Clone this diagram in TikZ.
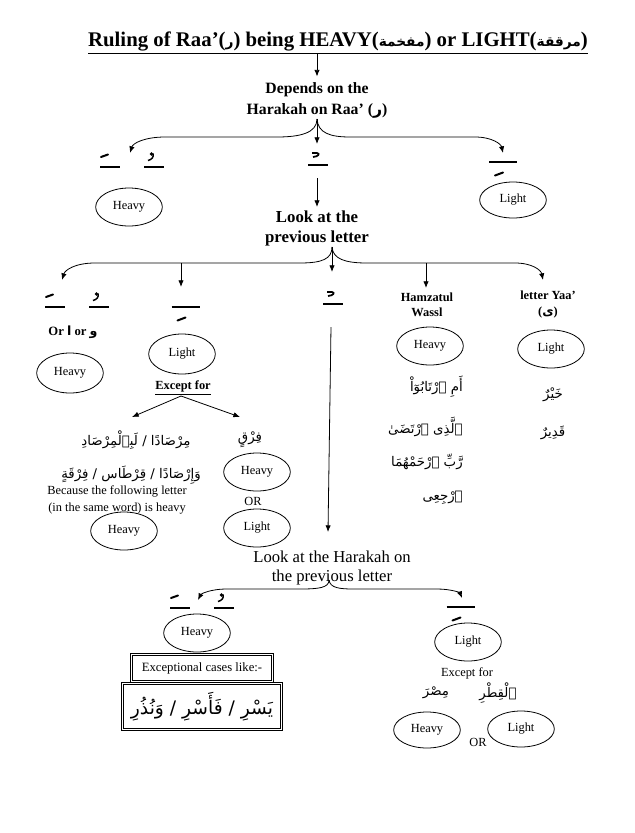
\documentclass[tikz,border=0pt]{standalone}
\usepackage{fontspec}
\setmainfont{Liberation Serif}
\newfontfamily\arabicfont[Script=Arabic]{DejaVu Sans}
\TeXXeTstate=1
\usetikzlibrary{shapes.geometric,arrows.meta}
\newcommand\myfs[2]{\fontsize{#1}{#2}\selectfont}
\newcommand\ar[1]{{\arabicfont\beginR #1\endR}}
\newcommand\art[1]{{\arabicfont\myfs{10.3}{12}\beginR #1\endR}}
\begin{document}
\begin{tikzpicture}[x=0.75pt,y=-0.75pt,
  arr/.style={-{Latex[length=5pt,width=4pt]}, line width=0.6pt},
  oval/.style={ellipse, draw, line width=0.6pt, minimum width=50pt, minimum height=28.5pt, inner sep=0pt, font=\myfs{9.3}{11}},
  hb/.style={font=\bfseries\myfs{9.3}{11.5}, align=center, inner sep=0pt},
  arb/.style={font=\arabicfont\myfs{10}{12}, inner sep=0pt},
  txt/.style={font=\myfs{9.3}{12.75}, align=center, inner sep=0pt},
  dbox/.style={draw, double, double distance=1.2pt, line width=0.5pt, inner sep=0pt},
  mk/.style={line width=0.9pt},
  dia/.style={line width=1.5pt, line cap=round},
  fathaP/.pic={\draw[mk] (-10,0) -- (10,0); \draw[dia] (-9,-10) -- (-2,-12.5);},
  dammaP/.pic={\draw[mk] (-10,0) -- (10,0); \fill (-2.5,-13) circle (1.9); \draw[line width=1.1pt] (-1,-13.5) .. controls (0,-10) and (-2,-7.5) .. (-6,-6.5);},
  sukunP/.pic={\draw[mk] (-10,0) -- (10,0); \draw[line width=1.3pt] (-6,-12) -- (-1,-12) .. controls (2,-11.5) and (1,-8.5) .. (-5,-8);},
  kasraP/.pic={\draw[mk] (-14,0) -- (14,0); \draw[dia] (-8,13.5) -- (0,10.5);}
]
\useasboundingbox (0,0) rectangle (635,833);
\fill[white] (0,0) rectangle (635,833);

% title
\node[font=\bfseries\myfs{15.6}{18}, inner sep=0pt] (title) at (338,43)
  {\underline{Ruling of Raa’(\art{ر}) being HEAVY(\art{مفخمة}) or LIGHT(\art{مرققة})}};
\node[font=\bfseries\myfs{11.8}{15.75}, align=center, inner sep=0pt] (dep) at (317,100)
  {Depends on the\\Harakah on Raa’ (\ar{ر})};
\draw[arr] (title.south -| dep.north) -- ([yshift=4pt]dep.north);

% row 1
\coordinate (apex1) at (317,119);
\coordinate (t1L) at (130,153);
\coordinate (t1M) at (317,144);
\coordinate (t1R) at (503,153);
\draw[arr] (apex1) .. controls (317,133) and (300,137) .. (277,137) -- (165,137) .. controls (145,137) and (133,143) .. (t1L);
\draw[arr] (apex1) .. controls (318,133) and (330,137) .. (350,137) -- (475,137) .. controls (492,137) and (501,144) .. (t1R);
\draw[arr] (apex1) -- (t1M);
\pic at (110,167) {fathaP};
\pic at (154,167) {dammaP};
\pic at (318,165) {sukunP};
\pic at (503,162) {kasraP};
\node[oval] (heavy1) at (129,207) {Heavy};
\node[oval, minimum height=27pt] (light1) at (513,200) {Light};

\coordinate (s1b) at (317,178);
\coordinate (l1top) at (317,207);
\draw[arr] (s1b) -- (l1top);
\node[font=\bfseries\myfs{12.6}{15}, align=center, inner sep=0pt] (look1) at (317,228) {Look at the\\previous letter};

% row 2
\coordinate (apex2) at (332,247);
\coordinate (t2L) at (62,280);
\coordinate (t2R) at (543,280);
\coordinate (t2M) at (332,272);
\coordinate (b2a) at (181,263);
\coordinate (t2a) at (181,287);
\coordinate (b2b) at (426,263);
\coordinate (t2b) at (426,288);
\draw[arr] (apex2) .. controls (332,259) and (322,263) .. (300,263) -- (95,263) .. controls (75,263) and (65,270) .. (t2L);
\draw[arr] (apex2) .. controls (333,259) and (345,263) .. (367,263) -- (515,263) .. controls (532,263) and (541,270) .. (t2R);
\draw[arr] (apex2) -- (t2M);
\draw[arr] (b2a) -- (t2a);
\draw[arr] (b2b) -- (t2b);

\pic at (55,307) {fathaP};
\pic at (99,307) {dammaP};
\pic at (185.5,307) {kasraP};
\pic at (333,304) {sukunP};

\node[hb, font=\bfseries\myfs{9.5}{11.5}] (oraw) at (73,332) {Or \ar{ا} or \ar{و}};
\node[oval, minimum height=30pt] (heavy2) at (70,373) {Heavy};
\node[oval, minimum height=30pt] (light2) at (182,354) {Light};
\node[hb] (except1) at (183,388) {\underline{Except for}};
\coordinate (ex1) at (181,396);
\coordinate (ex1L) at (132,417);
\coordinate (ex1R) at (240,417);
\draw[arr] (ex1) -- (ex1L);
\draw[arr] (ex1) -- (ex1R);

\node[arb] (ar1) at (136,440) {\beginR مِرْصَادًا / لَبِٱلْمِرْصَادِ\endR};
\node[arb] (farq) at (250,440) {\beginR فِرْقٍ\endR};
\node[arb] (ar2) at (131,475) {\beginR وَإِرْصَادًا / قِرْطَاس / فِرْقَةٍ\endR};
\node[txt] (because) at (117,499.5) {Because the following letter\\(in the same word) is heavy};
\node[oval] (heavy3) at (124,531) {Heavy};
\node[oval] (heavy4) at (257,472) {Heavy};
\node[txt] (or1) at (253,501) {OR};
\node[oval] (light4) at (257,528) {Light};

\coordinate (s2b) at (331,327);
\coordinate (l2top) at (328,532);
\draw[arr] (s2b) -- (l2top);

\node[hb] (hamz) at (427,304.5) {Hamzatul\\Wassl};
\node[oval] (heavy5) at (430,346) {Heavy};
\node[arb, anchor=east] (h1) at (463,387) {\beginR أَمِ ٱرْتَابُوٓاْ\endR};
\node[arb, anchor=east] (h2) at (463,427) {\beginR ٱلَّذِى ٱرْتَضَىٰ\endR};
\node[arb, anchor=east] (h3) at (463,462) {\beginR رَّبِّ ٱرْحَمْهُمَا\endR};
\node[arb, anchor=east] (h4) at (463,498) {\beginR ٱرْجِعِى\endR};

\node[hb, font=\bfseries\myfs{9.3}{12}] (yaa) at (548,305) {letter Yaa’\\(\ar{ى})};
\node[oval] (light5) at (551,349) {Light};
\node[arb] (khayr) at (553,395) {\beginR خَيْرٌ\endR};
\node[arb] (qadir) at (553,433) {\beginR قَدِيرٌ\endR};

% bottom
\node[font=\myfs{12.5}{14.25}, align=center, inner sep=0pt] (look2) at (332,567.5) {Look at the Harakah on\\the previous letter};
\coordinate (apex3) at (329,580);
\coordinate (t3L) at (198,600);
\coordinate (t3R) at (462,598);
\draw[arr] (apex3) .. controls (329,588) and (318,589) .. (300,589) -- (227,589) .. controls (210,589) and (201,594) .. (t3L);
\draw[arr] (apex3) .. controls (330,588) and (340,589) .. (353,589) -- (437,589) .. controls (452,589) and (460,593) .. (t3R);
\pic at (180,608) {fathaP};
\pic at (224,608) {dammaP};
\pic at (460.5,607) {kasraP};
\node[oval] (heavy6) at (197,633) {Heavy};
\node[dbox, minimum width=105.75pt, minimum height=20.25pt, font=\myfs{9.5}{11}] (box1) at (202,668) {Exceptional cases like:-};
\node[dbox, minimum width=119.25pt, minimum height=34.5pt, font=\arabicfont\myfs{14}{16}] (box2) at (202,706.5) {\beginR يَسْرِ / فَأَسْرِ / وَنُذُرِ\endR};

\node[oval] (light6) at (468,642) {Light};
\node[txt] (except2) at (467,673) {Except for};
\node[arb] (misr) at (436,693) {\beginR مِصْرَ\endR};
\node[arb] (qitr) at (498,693) {\beginR ٱلْقِطْرِ\endR};
\node[oval, minimum height=27pt] (heavy7) at (427,730) {Heavy};
\node[txt] (or2) at (478,742) {OR};
\node[oval, minimum height=27pt] (light7) at (521,729) {Light};
\end{tikzpicture}
\end{document}
